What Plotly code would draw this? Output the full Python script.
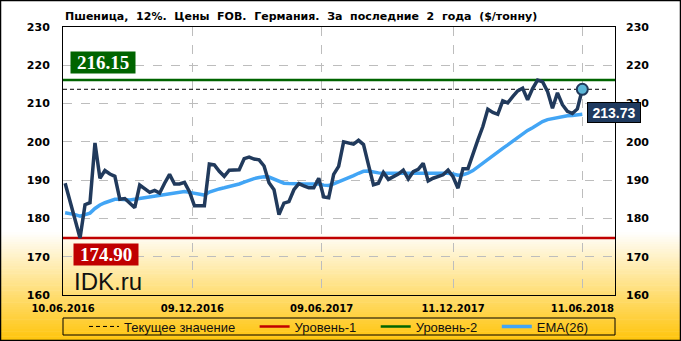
import plotly.graph_objects as go
import pandas as pd

title_text = "Пшеница, 12%. Цены FOB. Германия. За последние 2 года ($/тонну)"
dates = pd.date_range(end="2018-06-11", periods=105, freq="7D")

price = [
    189.2, 184.3, 179.6, 174.9, 183.6, 184.1, 199.7, 190.5, 192.5, 191.6,
    191.0, 185.0, 185.2, 184.0, 182.8, 188.7, 187.8, 186.8, 187.3, 186.6,
    189.2, 191.5, 189.0, 189.0, 189.4, 187.0, 183.3, 183.3, 183.3, 194.2,
    194.0, 192.3, 191.0, 192.6, 192.7, 192.7, 195.6, 196.0, 195.5, 195.3,
    193.7, 189.3, 187.5, 181.0, 184.0, 184.4, 187.5, 189.1, 188.5, 188.0,
    188.0, 190.5, 185.6, 185.4, 191.5, 193.6, 200.0, 199.6, 199.4, 200.4,
    199.3, 194.0, 188.8, 189.2, 192.0, 190.2, 190.9, 191.6, 192.6, 190.3,
    192.2, 192.8, 194.4, 189.8, 190.5, 190.9, 191.4, 192.6, 190.9, 187.9,
    193.0, 193.0, 197.0, 200.5, 204.0, 208.5, 207.7, 207.2, 210.7, 210.2,
    211.8, 213.3, 214.0, 211.0, 213.9, 216.15, 215.7, 213.2, 208.8, 212.8,
    209.7, 208.0, 207.4, 208.6, 213.73,
]

ema26 = [
    181.5, 181.3, 181.0, 180.6, 180.9, 181.4, 182.6, 183.5, 184.1, 184.6,
    185.0, 185.0, 184.9, 184.8, 185.0, 185.2, 185.4, 185.7, 185.9, 186.1,
    186.4, 186.6, 186.8, 186.9, 187.0, 186.8, 186.5, 186.2, 186.1, 186.9,
    187.4, 187.7, 188.0, 188.3, 188.6, 189.0, 189.5, 190.0, 190.4, 190.7,
    190.9, 190.8, 190.2, 189.6, 189.2, 189.1, 189.0, 189.0, 189.0, 189.0,
    189.0, 189.0, 188.7, 188.6, 189.0, 189.5, 190.0, 190.6, 191.2, 191.8,
    192.3, 192.4, 192.1, 191.9, 191.8, 191.8, 191.8, 191.8, 191.8, 191.7,
    191.8, 191.8, 191.9, 191.8, 191.7, 191.7, 191.7, 191.8, 191.6, 191.3,
    191.4, 191.8, 192.5, 193.5, 194.4, 195.3, 196.3, 197.3, 198.3, 199.2,
    200.2, 201.2, 202.2, 203.0, 203.7, 204.6, 205.3, 205.8, 206.1, 206.4,
    206.6, 206.8, 206.9, 207.0, 207.2,
]

level1 = 174.90
level2 = 216.15
current = price[-1]

xtick_vals = ["2016-06-10", "2016-12-09", "2017-06-09", "2017-12-11", "2018-06-11"]
xtick_text = ["10.06.2016", "09.12.2016", "09.06.2017", "11.12.2017", "11.06.2018"]
y_ticks = [160, 170, 180, 190, 200, 210, 220, 230]
x_range = ["2016-06-10", "2018-07-27"]
dash_end = "2018-07-17"

legend_names = ["Текущее значение", "Уровень-1", "Уровень-2", "EMA(26)"]

# layout geometry (pixels)
W, H = 681, 341
ML, MR, MT, MB = 63, 66, 27, 46
PW, PH = W - ML - MR, H - MT - MB


def px_x(px):
    return (px - ML) / PW


def px_y(py):
    return (H - MB - py) / PH


NAVY = "#213A5C"
EMA_C = "#42A5F5"
RED = "#C00000"
GREEN = "#006400"
PAD = "\u00a0" * 4

fig = go.Figure()

fig.add_trace(go.Scatter(x=[x_range[0], dash_end], y=[current, current], mode="lines",
                         line=dict(color="black", width=1, dash="4px,3px"),
                         name=legend_names[0] + PAD, hoverinfo="skip"))
fig.add_trace(go.Scatter(x=x_range, y=[level1, level1], mode="lines",
                         line=dict(color=RED, width=2.5), name=legend_names[1] + PAD,
                         hoverinfo="skip"))
fig.add_trace(go.Scatter(x=x_range, y=[level2, level2], mode="lines",
                         line=dict(color=GREEN, width=2.5), name=legend_names[2] + PAD,
                         hoverinfo="skip"))
fig.add_trace(go.Scatter(x=dates, y=ema26, mode="lines",
                         line=dict(color=EMA_C, width=3.5), name=legend_names[3]))
fig.add_trace(go.Scatter(x=dates, y=price, mode="lines",
                         line=dict(color=NAVY, width=3.5), showlegend=False))
fig.add_trace(go.Scatter(x=[dates[-1]], y=[current], mode="markers",
                         marker=dict(size=11, color="#5DB7D8", line=dict(color=NAVY, width=2)),
                         showlegend=False))
# invisible trace for right axis
fig.add_trace(go.Scatter(x=[dates[0]], y=[y_ticks[0]], yaxis="y2", mode="markers",
                         marker=dict(opacity=0), showlegend=False, hoverinfo="skip"))

shapes = []
# background gradient (white -> gold)
g_top, g_bot = 232, H
N = 45
c0 = (255, 255, 255)
c1 = (255, 196, 10)
for i in range(N):
    y0p = g_top + (g_bot - g_top) * i / N
    y1p = g_top + (g_bot - g_top) * (i + 1) / N
    t = (i + 0.5) / N
    c = tuple(int(round(c0[k] + (c1[k] - c0[k]) * t)) for k in range(3))
    shapes.append(dict(type="rect", xref="paper", yref="paper", layer="below",
                       x0=px_x(0), x1=px_x(W), y0=px_y(y1p) - 0.002, y1=px_y(y0p),
                       line=dict(width=0), fillcolor="rgb(%d,%d,%d)" % c))
# legend box
shapes.append(dict(type="rect", xref="paper", yref="paper",
                   x0=0, x1=1, y0=px_y(335), y1=px_y(318),
                   line=dict(color="black", width=1), fillcolor="rgba(0,0,0,0)"))
# figure border
shapes.append(dict(type="rect", xref="paper", yref="paper",
                   x0=px_x(0.5), x1=px_x(W - 0.5), y0=px_y(H - 0.5), y1=px_y(0.5),
                   line=dict(color="black", width=1.5), fillcolor="rgba(0,0,0,0)"))

annotations = [
    dict(text="<b>%.2f</b>" % level2, xref="paper", yref="y", x=px_x(70), y=level2,
         xanchor="left", yanchor="bottom", yshift=6, showarrow=False,
         bgcolor=GREEN, width=60, height=17, borderpad=2,
         font=dict(family="Liberation Serif", size=19, color="white")),
    dict(text="<b>%.2f</b>" % level1, xref="paper", yref="y", x=px_x(73), y=level1,
         xanchor="left", yanchor="top", yshift=-5, showarrow=False,
         bgcolor=RED, width=60, height=17, borderpad=2,
         font=dict(family="Liberation Serif", size=19, color="white")),
    dict(text="<b>%.2f</b>" % current, xref="x", yref="y", x=dates[-1], y=current,
         xanchor="left", yanchor="top", xshift=5, yshift=-13, showarrow=False,
         bgcolor="#1F3A5F", bordercolor="black", borderwidth=1, width=50, height=17, borderpad=1,
         font=dict(family="Liberation Sans", size=14, color="white")),
    dict(text="IDK.ru", xref="paper", yref="paper", x=px_x(72), y=px_y(281),
         xanchor="left", yanchor="middle", showarrow=False,
         font=dict(family="Liberation Sans", size=24, color="#111111")),
]

axis_font = dict(family="DejaVu Sans", size=11, color="black", weight="bold")

fig.update_layout(
    width=W, height=H,
    margin=dict(l=ML, r=MR, t=MT, b=MB, autoexpand=False),
    paper_bgcolor="white",
    plot_bgcolor="rgba(0,0,0,0)",
    title=dict(text=title_text.replace(" ", "\u00a0 "), xref="paper", x=px_x(65),
               xanchor="left", yref="container", y=1 - 16 / H, yanchor="middle",
               font=dict(family="DejaVu Sans", size=11, color="black", weight="bold")),
    xaxis=dict(type="date", range=x_range, tickvals=xtick_vals, ticktext=xtick_text,
               showgrid=True, gridcolor="#BDBDBD", griddash="dash", gridwidth=1,
               showline=True, linecolor="black", linewidth=1, mirror=True,
               ticks="", ticklabelstandoff=4,
               tickfont=dict(family="DejaVu Sans", size=10, color="black", weight="bold"),
               zeroline=False, fixedrange=True),
    yaxis=dict(range=[y_ticks[0], y_ticks[-1]], tickvals=y_ticks,
               showgrid=True, gridcolor="#BDBDBD", griddash="dash", gridwidth=1,
               showline=True, linecolor="black", linewidth=1, mirror=True,
               ticks="", ticklabelstandoff=10, tickfont=axis_font, zeroline=False),
    yaxis2=dict(range=[y_ticks[0], y_ticks[-1]], tickvals=y_ticks, overlaying="y", side="right",
                showgrid=False, showline=False, ticks="", ticklabelstandoff=10,
                tickfont=axis_font, zeroline=False),
    showlegend=True,
    legend=dict(orientation="h", x=0.5, xanchor="center", y=px_y(326.5), yanchor="middle",
                bgcolor="rgba(0,0,0,0)", borderwidth=0, itemwidth=30,
                font=dict(family="Liberation Sans", size=13, color="#111111")),
    shapes=shapes,
    annotations=annotations,
)

fig.write_html("out.html")
